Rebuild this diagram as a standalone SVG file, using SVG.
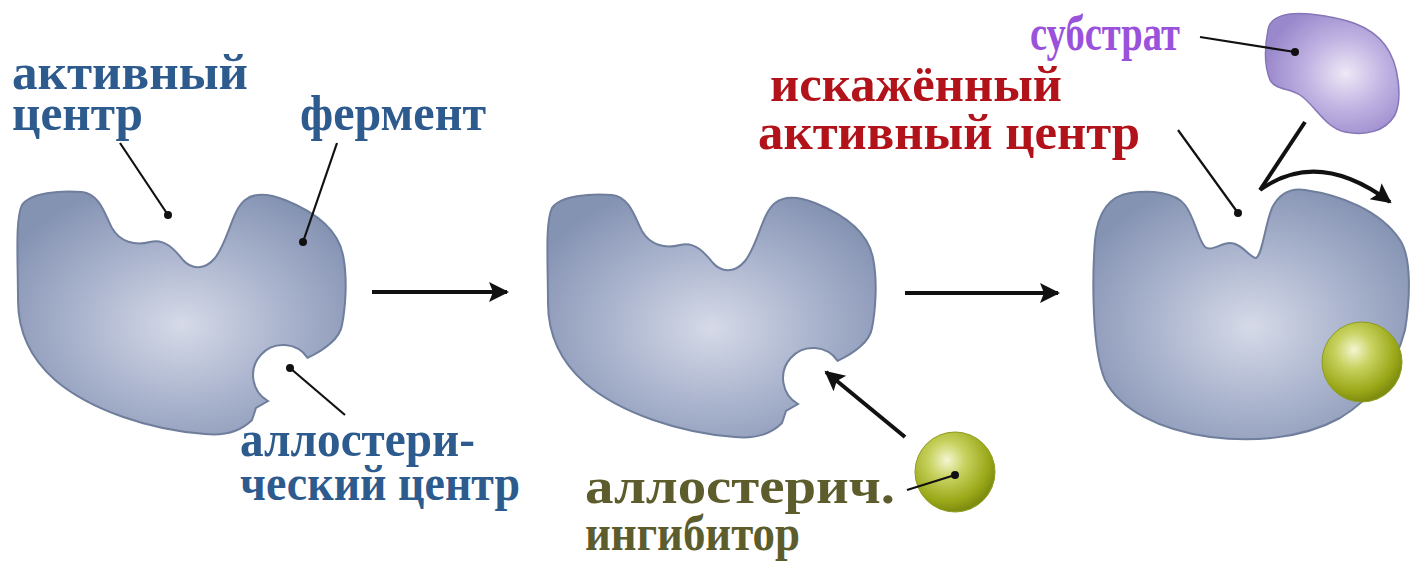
<svg xmlns="http://www.w3.org/2000/svg" width="1410" height="562" viewBox="0 0 1410 562">
  <defs>
    <radialGradient id="gEnzyme" cx="0.5" cy="0.55" r="0.6">
      <stop offset="0" stop-color="#d6dae8"/>
      <stop offset="0.55" stop-color="#a8b2cc"/>
      <stop offset="1" stop-color="#8593b3"/>
    </radialGradient>
    <radialGradient id="gSubstrate" cx="0.6" cy="0.5" r="0.6">
      <stop offset="0" stop-color="#eee8f6"/>
      <stop offset="0.5" stop-color="#c0b2e2"/>
      <stop offset="1" stop-color="#9a88cc"/>
    </radialGradient>
    <radialGradient id="gBall" cx="0.4" cy="0.35" r="0.65">
      <stop offset="0" stop-color="#f4f6d2"/>
      <stop offset="0.35" stop-color="#c8d260"/>
      <stop offset="0.8" stop-color="#9aa818"/>
      <stop offset="1" stop-color="#7e8c10"/>
    </radialGradient>
    <marker id="head" viewBox="0 0 10 10" refX="9" refY="5" markerWidth="6.5" markerHeight="5" markerUnits="strokeWidth" orient="auto">
      <path d="M0,0 L10,5 L0,10 L2,5 Z" fill="#111"/>
    </marker>
  </defs>
  <style>
    .enz { fill: url(#gEnzyme); stroke: #6f7e9c; stroke-width: 2; }
    .sub { fill: url(#gSubstrate); stroke: #8676b8; stroke-width: 1.5; }
    .ball { fill: url(#gBall); stroke: #8e9c20; stroke-width: 1; }
    .lead { stroke: #111; stroke-width: 2.2; fill: none; }
    .dot { fill: #111; }
    .arr { stroke: #111; stroke-width: 4; fill: none; marker-end: url(#head); }
    .lbl { font-family: "Liberation Serif", "Times New Roman", serif; font-weight: bold; font-size: 50px; }
    .blue { fill: #2d5b8e; }
    .red { fill: #b2121a; }
    .violet { fill: #9a52dc; }
    .olive { fill: #5c5c2c; }
  </style>

  <rect width="1410" height="562" fill="#ffffff"/>

  <!-- free enzyme with active and allosteric sites -->
  <g id="enzyme-free">
    <path class="enz" d="M22,205 C30,193 60,190 82,192 C100,194 105,215 112,228 C120,242 135,246 150,242 C165,238 175,250 183,260 C192,270 205,270 215,258 C228,242 232,210 245,200 C255,192 270,194 285,200 C315,212 338,230 343,255 C348,280 345,310 342,325 C340,338 325,350 307.6,357.8 A30,30 0 1 0 268,401 L256,408 L252,420 C240,432 225,436 205,434 C150,430 90,410 55,380 C30,358 18,330 18,300 C18,260 15,220 22,205 Z"/>
  </g>

  <!-- same enzyme while the inhibitor approaches -->
  <g id="enzyme-before-binding" transform="translate(530,3)">
    <path class="enz" d="M22,205 C30,193 60,190 82,192 C100,194 105,215 112,228 C120,242 135,246 150,242 C165,238 175,250 183,260 C192,270 205,270 215,258 C228,242 232,210 245,200 C255,192 270,194 285,200 C315,212 338,230 343,255 C348,280 345,310 342,325 C340,338 325,350 307.6,357.8 A30,30 0 1 0 268,401 L256,408 L252,420 C240,432 225,436 205,434 C150,430 90,410 55,380 C30,358 18,330 18,300 C18,260 15,220 22,205 Z"/>
  </g>

  <!-- free allosteric inhibitor -->
  <g id="inhibitor-free">
    <circle class="ball" cx="955" cy="472" r="40"/>
  </g>

  <!-- enzyme with distorted active site and bound inhibitor -->
  <g id="enzyme-inhibited">
    <path class="enz" d="M1095,240 C1098,210 1110,196 1130,193 C1150,190 1175,192 1185,205 C1195,218 1198,240 1205,247 C1212,252 1220,243 1230,243 C1242,243 1250,258 1256,258 C1262,256 1265,225 1272,208 C1280,192 1292,188 1305,190 C1340,195 1380,210 1400,240 C1412,258 1410,300 1405,330 C1395,370 1370,400 1340,418 C1300,440 1250,442 1210,437 C1160,430 1120,410 1105,380 C1092,350 1092,280 1095,240 Z"/>
    <circle class="ball" cx="1362" cy="362" r="40"/>
  </g>

  <!-- substrate -->
  <g id="substrate">
    <path class="sub" d="M1268,30 C1270,15 1290,12 1310,14 C1345,18 1370,25 1385,45 C1400,65 1402,100 1395,115 C1385,132 1365,136 1345,132 C1325,128 1315,105 1300,95 C1290,88 1275,90 1270,80 C1264,65 1265,45 1268,30 Z"/>
  </g>

  <!-- connectors: reaction arrows, leader lines and the rejected substrate -->
  <g id="connectors">
    <line class="arr" x1="372" y1="292" x2="507" y2="292"/>
    <line class="arr" x1="905" y1="293" x2="1058" y2="293"/>
    <line class="arr" x1="905" y1="437" x2="826" y2="372"/>
    <line class="lead" x1="1305" y1="122" x2="1260" y2="190" style="stroke-width:4"/>
    <path class="arr" d="M1260,190 Q1318,148 1390,202"/>

    <line class="lead" x1="120" y1="143" x2="168" y2="215"/>
    <circle class="dot" cx="168" cy="215" r="4"/>
    <line class="lead" x1="337" y1="143" x2="303" y2="242"/>
    <circle class="dot" cx="303" cy="242" r="4"/>
    <line class="lead" x1="345" y1="415" x2="290" y2="368"/>
    <circle class="dot" cx="290" cy="368" r="4"/>
    <line class="lead" x1="907" y1="490" x2="955" y2="475"/>
    <circle class="dot" cx="955" cy="475" r="4"/>
    <line class="lead" x1="1200" y1="37" x2="1295" y2="52"/>
    <circle class="dot" cx="1295" cy="52" r="4"/>
    <line class="lead" x1="1178" y1="130" x2="1238" y2="213"/>
    <circle class="dot" cx="1238" cy="213" r="4"/>
  </g>

  <!-- labels -->
  <g id="labels" class="lbl">
    <text class="blue" x="12" y="89" textLength="236" lengthAdjust="spacingAndGlyphs">активный</text>
    <text class="blue" x="12" y="130" textLength="131" lengthAdjust="spacingAndGlyphs">центр</text>
    <text class="blue" x="300" y="130" textLength="186" lengthAdjust="spacingAndGlyphs">фермент</text>
    <text class="blue" x="240" y="456" textLength="235" lengthAdjust="spacingAndGlyphs">аллостери-</text>
    <text class="blue" x="240" y="500" textLength="280" lengthAdjust="spacingAndGlyphs">ческий центр</text>
    <text class="olive" x="585" y="503" textLength="310" lengthAdjust="spacingAndGlyphs">аллостерич.</text>
    <text class="olive" x="585" y="550" textLength="215" lengthAdjust="spacingAndGlyphs">ингибитор</text>
    <text class="violet" x="1030" y="50" textLength="150" lengthAdjust="spacingAndGlyphs">субстрат</text>
    <text class="red" x="770" y="101" textLength="292" lengthAdjust="spacingAndGlyphs">искажённый</text>
    <text class="red" x="758" y="149" textLength="382" lengthAdjust="spacingAndGlyphs">активный центр</text>
  </g>
</svg>
